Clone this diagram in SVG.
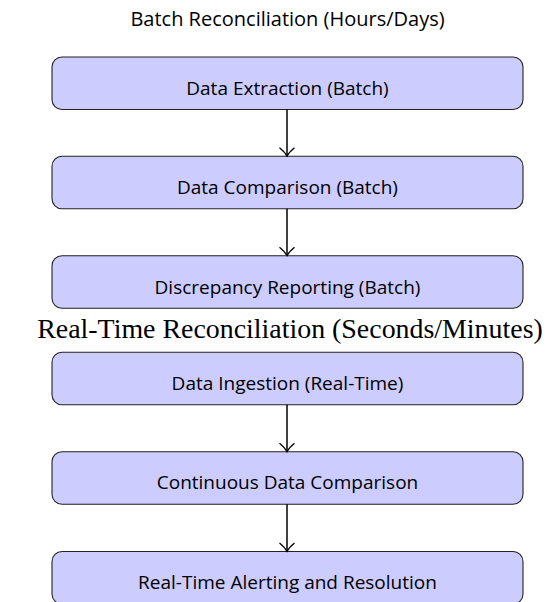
<svg xmlns="http://www.w3.org/2000/svg" width="553" height="602" viewBox="0 0 553 602">
  <defs>
    <style>
      .box { fill: #ccccff; stroke: #222; stroke-width: 1.1; }
      .lbl { font-family: "Open Sans", "Noto Sans", "Liberation Sans", sans-serif; font-size: 19px; fill: #000; text-anchor: middle; }
      .ttl { font-size: 20px; }
      .head { font-family: "Liberation Serif", "Times New Roman", serif; font-size: 27.9px; fill: #000; text-anchor: middle; }
      .edge { stroke: #000; stroke-width: 1.5; fill: none; }
    </style>
    <marker id="arrow" viewBox="0 0 11 18" refX="10" refY="9" markerWidth="11" markerHeight="18" markerUnits="userSpaceOnUse" orient="auto">
      <path d="M1.5,1.5 Q6,7 10,9 Q6,11 1.5,16.5" fill="none" stroke="#000" stroke-width="1.2"/>
    </marker>
  </defs>
  <rect width="553" height="602" fill="#fff"/>

  <!-- section titles -->
  <text id="title-batch" class="lbl ttl" x="287.5" y="25.7">Batch Reconciliation (Hours/Days)</text>
  <text id="title-realtime" class="head" x="290" y="338">Real-Time Reconciliation (Seconds/Minutes)</text>

  <!-- batch pipeline -->
  <g id="extract">
    <rect class="box" x="52" y="57" width="471" height="52.5" rx="10"/>
    <text class="lbl" x="287.5" y="94.8">Data Extraction (Batch)</text>
  </g>
  <g id="compare">
    <rect class="box" x="52" y="156.3" width="471" height="52.5" rx="10"/>
    <text class="lbl" x="287.5" y="194.1">Data Comparison (Batch)</text>
  </g>
  <g id="report">
    <rect class="box" x="52" y="255.7" width="471" height="52.5" rx="10"/>
    <text class="lbl" x="287.5" y="293.5">Discrepancy Reporting (Batch)</text>
  </g>

  <!-- real-time pipeline -->
  <g id="ingest">
    <rect class="box" x="52" y="352.3" width="471" height="52.5" rx="10"/>
    <text class="lbl" x="287.5" y="389.7">Data Ingestion (Real-Time)</text>
  </g>
  <g id="continuous">
    <rect class="box" x="52" y="451.8" width="471" height="52.5" rx="10"/>
    <text class="lbl" x="287.5" y="489.4">Continuous Data Comparison</text>
  </g>
  <g id="alert">
    <rect class="box" x="52" y="551.5" width="471" height="52.5" rx="10"/>
    <text class="lbl" x="287.5" y="589.2">Real-Time Alerting and Resolution</text>
  </g>

  <!-- connectors -->
  <g id="connectors">
    <line class="edge" x1="287" y1="109.5" x2="287" y2="156.3" marker-end="url(#arrow)"/>
    <line class="edge" x1="287" y1="208.8" x2="287" y2="255.7" marker-end="url(#arrow)"/>
    <line class="edge" x1="287" y1="404.8" x2="287" y2="451.8" marker-end="url(#arrow)"/>
    <line class="edge" x1="287" y1="504.3" x2="287" y2="551.5" marker-end="url(#arrow)"/>
  </g>
</svg>
